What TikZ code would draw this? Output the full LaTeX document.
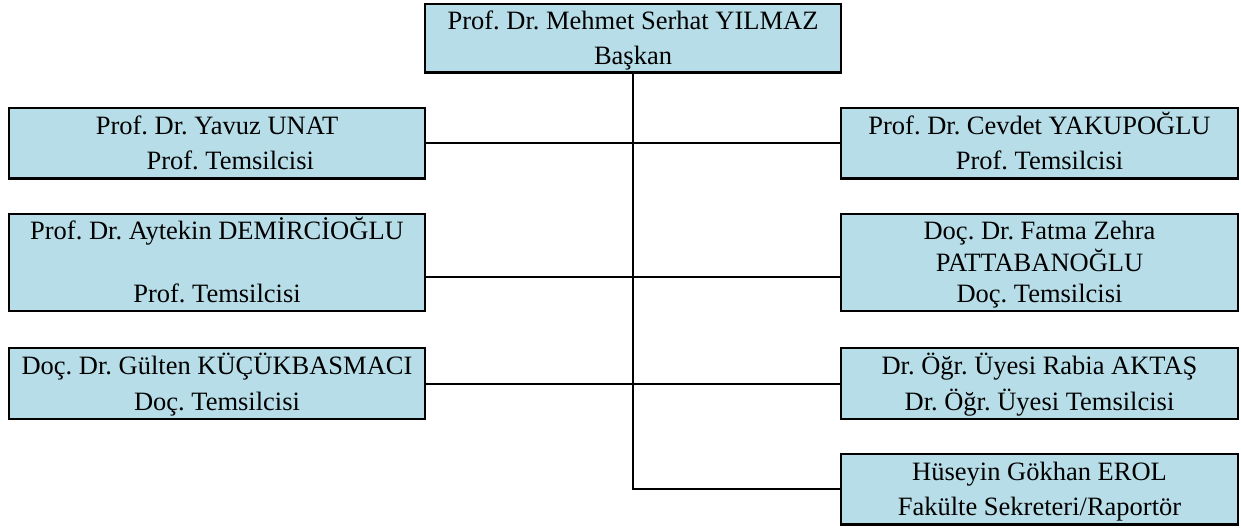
\documentclass[tikz,border=0pt]{standalone}
\usepackage{fontspec}
\setmainfont{Liberation Serif}
\definecolor{boxfill}{RGB}{183,222,232}
\begin{document}
\frenchspacing
\begin{tikzpicture}[x=0.5pt,y=-0.5pt,
  box/.style={draw=black, line width=1.1pt, fill=boxfill, inner sep=0pt, align=center,
    font=\fontsize{13.25}{17.75}\selectfont\frenchspacing, text height=26.52pt, text depth=0pt,
    minimum height=35.25pt},
  wideL/.style={minimum width=208pt},
  wideR/.style={minimum width=198.5pt},
  three/.style={font=\fontsize{13.25}{15.8}\selectfont\frenchspacing, text height=40.37pt, minimum height=48.5pt},
  link/.style={line width=1pt}]
\useasboundingbox (0,0) rectangle (1241,529);

\node[box, wideL, minimum height=34.25pt] (top) at (633,38.3) {Prof. Dr. Mehmet Serhat YILMAZ\\Başkan};

\node[box, wideL] (L1) at (217,143.2) {Prof. Dr. Yavuz UNAT\\\hspace*{1em}Prof. Temsilcisi};
\node[box, wideL, three] (L2) at (217,262.5) {Prof. Dr. Aytekin DEMİRCİOĞLU\\\mbox{}\\Prof. Temsilcisi};
\node[box, wideL, minimum height=35.5pt] (L3) at (217,383.5) {Doç. Dr. Gülten KÜÇÜKBASMACI\\Doç. Temsilcisi};

\node[box, wideR] (R1) at (1039.5,143.2) {Prof. Dr. Cevdet YAKUPOĞLU\\Prof. Temsilcisi};
\node[box, wideR, three] (R2) at (1039.5,262.5) {Doç. Dr. Fatma Zehra\\PATTABANOĞLU\\Doç. Temsilcisi};
\node[box, wideR, minimum height=35.5pt] (R3) at (1039.5,383.5) {Dr. Öğr. Üyesi Rabia AKTAŞ\\Dr. Öğr. Üyesi Temsilcisi};
\node[box, wideR] (R4) at (1039.5,489.2) {Hüseyin Gökhan EROL\\Fakülte Sekreteri/Raportör};

\draw[link] (top.south) |- (R4.west);
\draw[link] (L1.east) -- (R1.west);
\draw[link] ([yshift=-7.1pt]L2.east) -- ([yshift=-7.1pt]R2.west);
\draw[link] (L3.east) -- (R3.west);
\end{tikzpicture}
\end{document}
